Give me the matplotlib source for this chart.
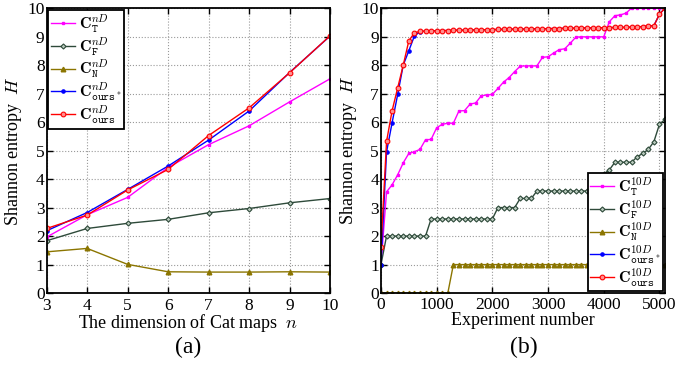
import matplotlib
matplotlib.use("Agg")
import matplotlib.pyplot as plt

plt.rcParams['font.family'] = ['Liberation Serif', 'DejaVu Serif']
plt.rcParams['mathtext.fontset'] = 'cm'

# ---------------- panel (a) data ----------------
dims = [3, 4, 5, 6, 7, 8, 9, 10]
a_T = [1.98, 2.76, 3.37, 4.42, 5.22, 5.88, 6.72, 7.53]
a_F = [1.85, 2.28, 2.46, 2.60, 2.83, 2.98, 3.18, 3.33]
a_N = [1.46, 1.58, 1.02, 0.76, 0.75, 0.75, 0.76, 0.75]
a_OS = [2.20, 2.84, 3.65, 4.47, 5.38, 6.40, 7.75, 9.03]
a_O = [2.28, 2.75, 3.63, 4.35, 5.54, 6.51, 7.74, 9.04]

# ---------------- panel (b) data ----------------
exp_n = list(range(0, 5101, 100))
b_T = [1.0, 3.55, 3.80, 4.15, 4.57, 4.90, 4.96, 5.04, 5.38, 5.39,
       5.80, 5.92, 5.96, 5.96, 6.39, 6.40, 6.63, 6.67, 6.92, 6.95,
       6.97, 7.18, 7.40, 7.56, 7.77, 7.96, 7.97, 7.97, 7.97, 8.27,
       8.29, 8.42, 8.54, 8.57, 8.77, 8.98, 8.99, 8.99, 8.99, 8.99,
       8.99, 9.52, 9.73, 9.76, 9.82, 10.0, 10.0, 10.0, 10.0, 10.0,
       10.0, 10.0]
b_F = [1.0, 2.0, 2.0, 2.0, 2.0, 2.0, 2.0, 2.0, 2.0, 2.6,
       2.6, 2.6, 2.6, 2.6, 2.6, 2.6, 2.6, 2.6, 2.6, 2.6,
       2.6, 3.0, 3.0, 3.0, 3.0, 3.32, 3.32, 3.32, 3.58, 3.58,
       3.58, 3.58, 3.58, 3.58, 3.58, 3.58, 3.58, 3.58, 3.78, 4.08,
       4.18, 4.32, 4.59, 4.59, 4.59, 4.59, 4.78, 4.90, 5.04, 5.31,
       5.92, 6.09]
b_N = [0.0] * 13 + [1.0] * 39
b_O = [1.60, 5.32, 6.40, 7.20, 8.00, 8.85, 9.13, 9.18, 9.19, 9.20,
       9.20, 9.21, 9.21, 9.22, 9.22, 9.22, 9.23, 9.23, 9.24, 9.24,
       9.24, 9.25, 9.25, 9.25, 9.26, 9.26, 9.26, 9.27, 9.27, 9.27,
       9.28, 9.28, 9.28, 9.29, 9.29, 9.29, 9.30, 9.30, 9.30, 9.31,
       9.31, 9.31, 9.32, 9.32, 9.32, 9.33, 9.34, 9.35, 9.37, 9.38,
       9.78, 10.0]
b_OS = [1.00, 4.95, 5.98, 6.97, 8.00, 8.50, 9.02, 9.17] + b_O[8:]

c_T = '#FF00FF'
c_F = '#2E4A3A'
c_N = '#8B7500'
c_OS = '#0000FF'
c_O = '#FF0000'

styles = [
    dict(color=c_T, marker='s', ms=1.8, mfc=c_T, mec=c_T),
    dict(color=c_F, marker='D', ms=2.6, mfc='#B9C9BD', mec=c_F, mew=0.8),
    dict(color=c_N, marker='^', ms=3.3, mfc=c_N, mec=c_N),
    dict(color=c_OS, marker='o', ms=2.3, mfc=c_OS, mec=c_OS),
    dict(color=c_O, marker='o', ms=3.4, mfc='#FF9090', mec=c_O, mew=0.8),
]

fig = plt.figure(figsize=(6.97, 3.65), dpi=100)
axA = fig.add_axes([0.067, 0.196, 0.4065, 0.781])
axB = fig.add_axes([0.5466, 0.197, 0.4075, 0.781])

lab_a = [r'$\mathbf{C}^{nD}_{\mathtt{T}}$', r'$\mathbf{C}^{nD}_{\mathtt{F}}$',
         r'$\mathbf{C}^{nD}_{\mathtt{N}}$', r'$\mathbf{C}^{nD}_{\mathtt{ours}^*}$',
         r'$\mathbf{C}^{nD}_{\mathtt{ours}}$']
lab_b = [r'$\mathbf{C}^{10D}_{\mathtt{T}}$', r'$\mathbf{C}^{10D}_{\mathtt{F}}$',
         r'$\mathbf{C}^{10D}_{\mathtt{N}}$', r'$\mathbf{C}^{10D}_{\mathtt{ours}^*}$',
         r'$\mathbf{C}^{10D}_{\mathtt{ours}}$']

for ys, st, lb in zip([a_T, a_F, a_N, a_OS, a_O], styles, lab_a):
    axA.plot(dims, ys, lw=1.0, label=lb, **st)
for ys, st, lb in zip([b_T, b_F, b_N, b_OS, b_O], styles, lab_b):
    axB.plot(exp_n, ys, lw=1.0, label=lb, **st)

for ax in (axA, axB):
    ax.set_ylim(0, 10)
    ax.set_yticks(range(0, 11))
    ax.grid(True, linestyle=':', color='#999999', lw=0.8)
    ax.tick_params(direction='in', top=True, right=True, labelsize=12.5,
                   length=4, width=1)
    ax.tick_params(axis='y', pad=1.5)
    ax.tick_params(axis='x', pad=3)
    for s in ax.spines.values():
        s.set_linewidth(1.3)
    ax.set_ylabel(r'Shannon entropy  $H$', fontsize=13, labelpad=2)

axA.set_xlim(3, 10)
axA.set_xticks(dims)
axA.set_xlabel(r'The dimension of Cat maps  $n$', fontsize=13, labelpad=-1)
axB.set_xlim(0, 5100)
axB.set_xticks([0, 1000, 2000, 3000, 4000, 5000])
axB.set_xlabel('Experiment number', fontsize=13, labelpad=-1)

leg_kw = dict(fontsize=11.5, borderaxespad=0.1, handlelength=1.5,
              handletextpad=0.25, labelspacing=0.02, borderpad=0.15,
              fancybox=False, framealpha=1)
legA = axA.legend(loc='upper left', **leg_kw)
legB = axB.legend(loc='lower right', **leg_kw)
for lg in (legA, legB):
    lg.get_frame().set_edgecolor('black')
    lg.get_frame().set_linewidth(1.3)

fig.text(0.27, 0.048, '(a)', fontsize=17, ha='center', va='center')
fig.text(0.751, 0.048, '(b)', fontsize=17, ha='center', va='center')

fig.savefig('out.png', dpi=100)
